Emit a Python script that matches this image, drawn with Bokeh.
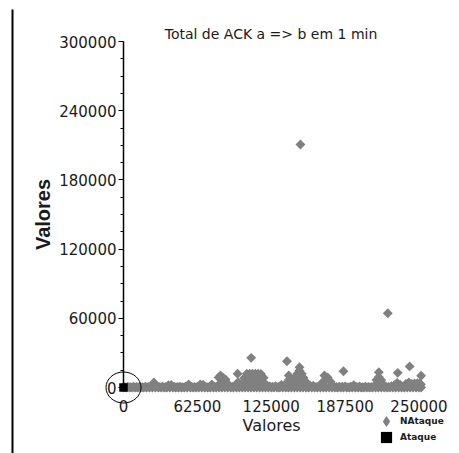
import math
import numpy as np
from bokeh.plotting import figure
from bokeh.models import (LinearAxis, FixedTicker, SingleIntervalTicker, BasicTickFormatter,
                          Label, Legend, LegendItem, Range1d)
from bokeh.embed import file_html
from bokeh.resources import INLINE

# ---------------- data ----------------
title_text = "Total de ACK a => b em 1 min"
x_label = "Valores"
y_label = "Valores"
series_names = ["NAtaque", "Ataque"]
x_ticks = [0, 62500, 125000, 187500, 250000]
y_ticks = [0, 60000, 120000, 180000, 240000, 300000]

# dense band of "NAtaque" points along the bottom: points at the floor (value 0) ...
band_x = [0, 2400, 4900, 7300, 9800, 12300, 14700, 17200, 19600, 22100,
          24500, 27000, 29400, 31900, 34300, 36800, 39200, 41700, 44100, 46600,
          49000, 51500, 53900, 56400, 58800, 61300, 63700, 66200, 68600, 71100,
          73500, 76000, 78400, 80900, 83300, 85800, 88200, 90700, 93100, 95600,
          98000, 100500, 102900, 105400, 107800, 110300, 112700, 115200, 117600, 120100,
          122500, 125000, 127400, 129900, 132300, 134800, 137200, 139700, 142100, 144600,
          147000, 149500, 151900, 154400, 156800, 159300, 161700, 164200, 166600, 169100,
          171500, 174000, 176400, 178900, 181300, 183800, 186200, 188700, 191100, 193600,
          196000, 198500, 200900, 203400, 205800, 208300, 210700, 213200, 215600, 218100,
          220500, 223000, 225400, 227900, 230300, 232800, 235200, 237700, 240100, 242600,
          245000, 247500, 249900, 251800]
band_floor = [0, 0, 0, 0, 0, 0, 0, 0, 0, 0,
              0, 0, 0, 0, 0, 0, 0, 0, 0, 0,
              0, 0, 0, 0, 0, 0, 0, 0, 0, 0,
              0, 0, 0, 0, 0, 0, 0, 0, 0, 0,
              0, 0, 0, 0, 0, 0, 0, 0, 0, 0,
              0, 0, 0, 0, 0, 0, 0, 0, 0, 0,
              0, 0, 0, 0, 0, 0, 0, 0, 0, 0,
              0, 0, 0, 0, 0, 0, 0, 0, 0, 0,
              0, 0, 0, 0, 0, 0, 0, 0, 0, 0,
              0, 0, 0, 0, 0, 0, 0, 0, 0, 0,
              0, 0, 0, 0]
# ... and the points that form the upper edge of the band
band_top_x = [1200, 3650, 6100, 8550, 11050, 13500, 15950, 18400, 20850, 23300,
              25750, 28200, 30650, 33100, 35550, 38000, 40450, 42900, 45350, 47800,
              50250, 52700, 55150, 57600, 60050, 62500, 64950, 67400, 69850, 72300,
              74750, 77200, 79650, 82100, 84550, 87000, 89450, 91900, 94350, 96800,
              99250, 101700, 104150, 106600, 109050, 111500, 113950, 116400, 118850, 121300,
              123750, 126200, 128650, 131100, 133550, 136000, 138450, 140900, 143350, 145800,
              148250, 150700, 153150, 155600, 158050, 160500, 162950, 165400, 167850, 170300,
              172750, 175200, 177650, 180100, 182550, 185000, 187450, 189900, 192350, 194800,
              197250, 199700, 202150, 204600, 207050, 209500, 211950, 214400, 216850, 219300,
              221750, 224200, 226650, 229100, 231550, 234000, 236450, 238900, 241350, 243800,
              246250, 248700, 250850, 251500]
band_top = [300, 600, 200, 700, 400, 800, 300, 600, 500, 900,
            4300, 1200, 500, 800, 400, 2000, 2200, 600, 400, 700,
            300, 1000, 2600, 600, 500, 800, 2600, 2400, 500, 300,
            2600, 600, 1200, 4000, 6000, 4500, 1000, 600, 1500, 4600,
            2500, 1500, 4000, 4000, 4000, 4000, 4000, 4000, 4000, 2000,
            1000, 700, 1200, 400, 2300, 2000, 600, 3000, 1000, 2500,
            3000, 3000, 2500, 700, 1500, 1500, 500, 1000, 4000, 6000,
            8700, 5000, 1000, 400, 800, 600, 1000, 300, 700, 2000,
            500, 900, 300, 800, 500, 400, 1000, 3000, 4500, 3000,
            900, 500, 1200, 2000, 4000, 2500, 700, 3000, 4300, 3000,
            3500, 3800, 3500, 2500]

# stacked groups of "NAtaque" points a little above the band
cluster_x = [102000, 104300, 106700, 109100, 111500, 113900, 116300, 118600, 105500, 108000,
             113000, 115500, 110500,
             148900, 148900, 147000, 150800, 148900, 145500, 152300, 148900, 144000, 153800,
             139800, 139800, 216000, 214000, 218000, 80500, 84000, 86300]
cluster_y = [8000, 11900, 11900, 11900, 11900, 11900, 11700, 8500, 7500, 8000,
             7800, 7200, 6000,
             17600, 14500, 12000, 12000, 10400, 8500, 8500, 7000, 5500, 5500,
             10400, 6500, 9000, 6500, 6500, 8700, 8700, 7000]

# isolated "NAtaque" points
outlier_x = [149700, 223600, 108000, 138300, 96500, 82000, 170000, 186100, 216000, 232000,
             242100, 251800]
outlier_y = [210700, 64400, 25700, 22800, 11900, 10400, 10400, 14100, 13300, 12700,
             18300, 10200]

# "Ataque" points
ataque_x = [0]
ataque_y = [0]

nat_x = band_x + band_top_x + cluster_x + outlier_x
nat_y = band_floor + band_top + cluster_y + outlier_y

# ---------------- layout ----------------
W, H = 459, 453
frame_left, frame_top = 12, 9
px_x0, px_xmax = 123.0, 418.5     # pixel columns of x = 0 and x = last tick
px_y0, px_ymax = 387.0, 41.0      # pixel rows of y = 0 and y = last tick
ux = (x_ticks[-1] - x_ticks[0]) / (px_xmax - px_x0)
uy = (y_ticks[-1] - y_ticks[0]) / (px_y0 - px_ymax)

x_range = Range1d(x_ticks[0] - (px_x0 - frame_left) * ux, x_ticks[-1] + (W - px_xmax) * ux)
y_range = Range1d(y_ticks[0] - (H - px_y0) * uy, y_ticks[-1] + (px_ymax - frame_top) * uy)

GREY = "#808080"
TXT = "#1a1a1a"
FONT = "DejaVu Sans"

p = figure(width=W, height=H, x_range=x_range, y_range=y_range,
           output_backend="svg", toolbar_location=None,
           min_border_left=frame_left, min_border_top=frame_top,
           min_border_right=0, min_border_bottom=0)
p.outline_line_color = None
p.xgrid.visible = False
p.ygrid.visible = False
p.background_fill_color = "white"
p.border_fill_color = "white"

# y axis through x = 0
yax = p.yaxis[0]
yax.fixed_location = 0
yax.bounds = (y_ticks[0], y_ticks[-1])
yax.ticker = SingleIntervalTicker(interval=y_ticks[1] - y_ticks[0], num_minor_ticks=4)
yax.formatter = BasicTickFormatter(use_scientific=False)
yax.axis_line_color = "black"
yax.axis_line_width = 1.5
yax.major_tick_line_color = "black"
yax.major_tick_out = 5
yax.major_tick_in = 0
yax.minor_tick_line_color = "black"
yax.minor_tick_out = 3
yax.minor_tick_in = 0
yax.major_label_standoff = 2
yax.major_label_text_font = FONT
yax.major_label_text_font_size = "15px"
yax.major_label_text_color = TXT
yax.axis_label = y_label
yax.axis_label_text_font = "Liberation Sans"
yax.axis_label_text_font_size = "20px"
yax.axis_label_text_font_style = "bold"
yax.axis_label_text_color = TXT
yax.axis_label_standoff = 2

# x axis through y = 0 (labels only)
xax = p.xaxis[0]
xax.fixed_location = 0
xax.bounds = (x_ticks[0], x_ticks[-1])
xax.ticker = FixedTicker(ticks=x_ticks, minor_ticks=[])
xax.formatter = BasicTickFormatter(use_scientific=False)
xax.axis_line_color = None
xax.major_tick_line_color = None
xax.minor_tick_line_color = None
xax.major_tick_out = 0
xax.major_tick_in = 0
xax.major_label_standoff = 12
xax.major_label_text_font = FONT
xax.major_label_text_font_size = "15px"
xax.major_label_text_color = TXT
xax.axis_label = x_label
xax.axis_label_text_font = FONT
xax.axis_label_text_font_size = "16px"
xax.axis_label_text_font_style = "normal"
xax.axis_label_text_color = TXT
xax.axis_label_standoff = 1

# page border line on the left
border_axis = LinearAxis(ticker=FixedTicker(ticks=[]), axis_line_color="black", axis_line_width=2,
                         major_tick_out=0, major_tick_in=0, minor_tick_out=0, minor_tick_in=0,
                         major_label_text_font_size="0px", major_label_standoff=0)
p.add_layout(border_axis, "left")

# data
p.scatter(nat_x, nat_y, marker="square", angle=math.pi / 4, size=7,
          fill_color=GREY, line_color=None)
at_r = p.scatter(ataque_x, ataque_y, marker="square", size=8.5,
                 fill_color="black", line_color=None)
# legend swatch for NAtaque (no visible point of its own)
nat_proxy = p.scatter(np.array([np.nan]), np.array([np.nan]), marker="diamond", size=10,
                      fill_color=GREY, line_color=None)

# circle highlighting the attack point
p.ellipse(x=ataque_x, y=ataque_y, width=35, height=31, width_units="screen", height_units="screen",
          fill_color=None, line_color="black", line_width=1)

# title
p.add_layout(Label(x=(270.5 - px_x0) * ux, y=(px_y0 - 33) * uy, text=title_text,
                   text_align="center", text_baseline="alphabetic",
                   text_font=FONT, text_font_size="14px", text_color=TXT))

# legend: one entry per box, stacked in the lower right corner
legend_style = dict(orientation="vertical", glyph_width=28, glyph_height=28, label_standoff=0,
                    padding=0, margin=0, border_line_color=None, background_fill_alpha=0,
                    label_text_font=FONT, label_text_font_style="bold",
                    label_text_font_size="9px", label_text_color=TXT)
leg_nat = Legend(items=[LegendItem(label=series_names[0], renderers=[nat_proxy])],
                 location=(360, 18), **legend_style)
leg_at = Legend(items=[LegendItem(label=series_names[1], renderers=[at_r])],
                location=(360, 2), **legend_style)
p.add_layout(leg_nat)
p.add_layout(leg_at)

open("out.html", "w").write(file_html(p, INLINE))
